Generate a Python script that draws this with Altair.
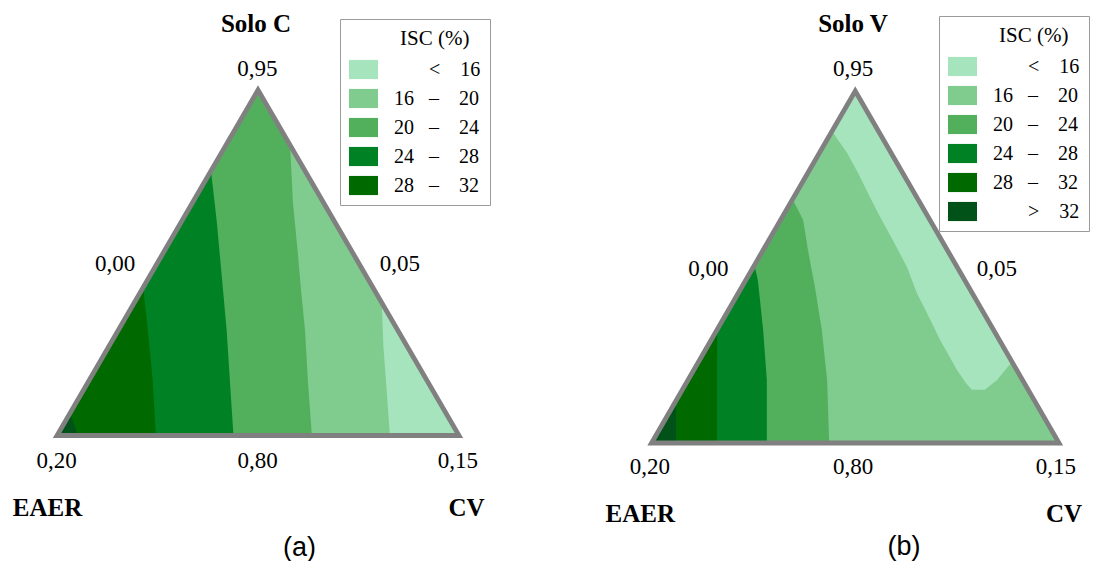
import altair as alt
import pandas as pd

SERIF = "Liberation Serif, Times New Roman, Times, DejaVu Serif, serif"
SANS = "Liberation Sans, Arial, DejaVu Sans, sans-serif"

# ISC (%) classes and their fills
BANDS = ["< 16", "16 – 20", "20 – 24", "24 – 28", "28 – 32", "> 32"]
BAND_COLORS = ["#a5e4bc", "#80cc8f", "#52b05d", "#008224", "#006900", "#005218"]

# Triangle in plot units: u along the base (EAER -> CV), v up to the Solo vertex
TRI_U = [0.0, 1.0, 0.5]
TRI_V = [0.0, 0.0, 1.0]

# ---- Panel (a): Solo C, contour boundaries (u, v), from top to the base ----
A_16_U = [0.808, 0.812, 0.820, 0.828]                       # 16-20 | <16
A_16_V = [0.381, 0.257, 0.132, 0.000]
A_20_U = [0.580, 0.587, 0.600, 0.607, 0.617, 0.624, 0.634]  # 20-24 | 16-20
A_20_V = [0.838, 0.674, 0.517, 0.421, 0.305, 0.161, 0.000]
A_24_U = [0.383, 0.397, 0.410, 0.422, 0.430, 0.439]         # 24-28 | 20-24
A_24_V = [0.768, 0.624, 0.460, 0.305, 0.161, 0.000]
A_28_U = [0.214, 0.226, 0.238, 0.246]                       # 28-32 | 24-28
A_28_V = [0.430, 0.305, 0.161, 0.000]
A_32_U = [0.032, 0.052]                                     # corner > 32
A_32_V = [0.065, 0.000]

# ---- Panel (b): Solo V ----
B_16_U = [0.443, 0.480, 0.507, 0.536, 0.561, 0.592, 0.627, 0.651, 0.676, 0.708,
          0.750, 0.772, 0.786, 0.818, 0.848, 0.884]         # <16 pocket
B_16_V = [0.886, 0.824, 0.767, 0.699, 0.642, 0.577, 0.500, 0.426, 0.369, 0.293,
          0.207, 0.170, 0.151, 0.151, 0.179, 0.230]
B_20_U = [0.347, 0.372, 0.384, 0.401, 0.418, 0.431, 0.436]  # 20-24 | 16-20
B_20_V = [0.690, 0.634, 0.548, 0.443, 0.321, 0.179, 0.000]
B_24_U = [0.2525, 0.261, 0.274, 0.283, 0.283]               # 24-28 | 20-24
B_24_V = [0.506, 0.463, 0.321, 0.179, 0.000]
B_28_U = [0.161, 0.161]                                     # 28-32 | 24-28
B_28_V = [0.321, 0.000]
B_32_U = [0.060, 0.060]                                     # > 32 | 28-32
B_32_V = [0.119, 0.000]

# ---- Text ----
TICKS = ["0,95", "0,00", "0,05", "0,20", "0,80", "0,15"]
A_HEAD = ["Solo C", "EAER", "CV"]
B_HEAD = ["Solo V", "EAER", "CV"]
A_HEAD_U = [0.495, -0.0236, 1.0187]
A_HEAD_V = [1.192, -0.2098, -0.2098]
A_TICK_U = [0.4983, 0.1443, 0.8532, -0.0012, 0.4988, 0.9975]
A_TICK_V = [1.0613, 0.4964, 0.4964, -0.0738, -0.0738, -0.0738]
A_CAP = ["(a)"]
A_CAP_U = [0.6032]
A_CAP_V = [-0.325]
B_HEAD_U = [0.4945, -0.0275, 1.0123]
B_HEAD_V = [1.189, -0.2003, -0.2003]
B_TICK_U = [0.4945, 0.1394, 0.8474, -0.0037, 0.4945, 0.9926]
B_TICK_V = [1.0625, 0.4955, 0.4955, -0.0696, -0.0696, -0.0696]
B_CAP = ["(b)"]
B_CAP_U = [0.6196]
B_CAP_V = [-0.296]

BL = (0.0, 0.0)
APEX = (0.5, 1.0)
NB = "\u00a0"
ZW = "\u200b"


def poly(us, vs, corners=()):
    u = list(us) + [c[0] for c in corners]
    v = list(vs) + [c[1] for c in corners]
    return pd.DataFrame({"u": u, "v": v, "i": list(range(len(u)))})


def make_panel(fills, corner, texts, n_bands, width, height, bl_px, scale_px,
               legend_xy):
    sx, sy = scale_px
    bx, by = bl_px
    xdom = [-bx / sx, (width - bx) / sx]
    ydom = [-(height - by) / sy, by / sy]
    X = alt.X("u:Q", scale=alt.Scale(domain=xdom, nice=False, zero=False), axis=None)
    Y = alt.Y("v:Q", scale=alt.Scale(domain=ydom, nice=False, zero=False), axis=None)

    label_expr = (
        "(substring(datum.label, 0, 1) == '<' || substring(datum.label, 0, 1) == '>') ? '"
        + ZW + NB * 7 + "' + substring(datum.label, 0, 1) + '" + NB * 4
        + "' + slice(datum.label, 2) : replace(datum.label, ' – ', '"
        + NB * 3 + "–" + NB * 4 + "')"
    )
    legend = alt.Legend(
        title="ISC (%)" + NB * 2 + ZW, orient="none",
        legendX=legend_xy[0], legendY=legend_xy[1], direction="vertical",
        symbolType="M-1,-0.66H1V0.66H-1Z", symbolSize=841, symbolStrokeWidth=0,
        symbolOpacity=1, labelFont=SERIF, labelFontSize=20, labelColor="black",
        labelOffset=16, labelLimit=300, titleFont=SERIF, titleFontSize=21,
        titleFontWeight="normal", titleColor="black", titleAnchor="end",
        titlePadding=6, padding=9, strokeColor="#9a9a9a", fillColor="white",
        rowPadding=4, labelExpr=label_expr,
    )
    cscale = alt.Scale(domain=BANDS[:n_bands], range=BAND_COLORS[:n_bands])

    layers = []
    for df, band in fills:
        d = df.copy()
        d["band"] = band
        layers.append(
            alt.Chart(d).mark_line(filled=True, interpolate="linear-closed", strokeWidth=0)
            .encode(x=X, y=Y, order="i:Q",
                    color=alt.Color("band:N", scale=cscale, legend=legend))
        )
    if corner is not None:
        layers.append(
            alt.Chart(corner).mark_line(filled=True, interpolate="linear-closed", strokeWidth=0)
            .encode(x=X, y=Y, order="i:Q", color=alt.value(BAND_COLORS[5]))
        )
    tri = poly(TRI_U, TRI_V)
    layers.append(
        alt.Chart(tri).mark_line(interpolate="linear-closed", color="#808080",
                                 strokeWidth=4.8, strokeJoin="miter", strokeMiterLimit=10)
        .encode(x=X, y=Y, order="i:Q")
    )
    (hu, hv, ht), (tu, tv, tt), (cu, cv, ct) = texts
    layers.append(
        alt.Chart(pd.DataFrame({"u": hu, "v": hv, "t": ht}))
        .mark_text(font=SERIF, fontSize=25, fontWeight="bold", color="black",
                   align="center", baseline="middle")
        .encode(x=X, y=Y, text="t:N")
    )
    layers.append(
        alt.Chart(pd.DataFrame({"u": tu, "v": tv, "t": tt}))
        .mark_text(font=SERIF, fontSize=23, color="black", align="center", baseline="middle")
        .encode(x=X, y=Y, text="t:N")
    )
    layers.append(
        alt.Chart(pd.DataFrame({"u": cu, "v": cv, "t": ct}))
        .mark_text(font=SANS, fontSize=27, color="black", align="center", baseline="middle")
        .encode(x=X, y=Y, text="t:N")
    )
    return alt.layer(*layers).properties(width=width, height=height)


tri_df = poly(TRI_U, TRI_V)

panel_a = make_panel(
    fills=[
        (tri_df, "< 16"),
        (poly(A_16_U, A_16_V, [BL, APEX]), "16 – 20"),
        (poly(A_20_U, A_20_V, [BL, APEX]), "20 – 24"),
        (poly(A_24_U, A_24_V, [BL]), "24 – 28"),
        (poly(A_28_U, A_28_V, [BL]), "28 – 32"),
    ],
    corner=poly(A_32_U, A_32_V, [BL]),
    texts=((A_HEAD_U, A_HEAD_V, A_HEAD), (A_TICK_U, A_TICK_V, TICKS), (A_CAP_U, A_CAP_V, A_CAP)),
    n_bands=5, width=545, height=550, bl_px=(49, 427.5), scale_px=(402, 345.5),
    legend_xy=(332, 11),
)

panel_b = make_panel(
    fills=[
        (tri_df, "16 – 20"),
        (poly(B_16_U, B_16_V, [APEX]), "< 16"),
        (poly(B_20_U, B_20_V, [BL]), "20 – 24"),
        (poly(B_24_U, B_24_V, [BL]), "24 – 28"),
        (poly(B_28_U, B_28_V, [BL]), "28 – 32"),
        (poly(B_32_U, B_32_V, [BL]), "> 32"),
    ],
    corner=None,
    texts=((B_HEAD_U, B_HEAD_V, B_HEAD), (B_TICK_U, B_TICK_V, TICKS), (B_CAP_U, B_CAP_V, B_CAP)),
    n_bands=6, width=536, height=550, bl_px=(98.5, 435), scale_px=(407.5, 352),
    legend_xy=(386, 8),
)

chart = (
    alt.hconcat(panel_a, panel_b, spacing=0, bounds="flush")
    .resolve_scale(color="independent", x="independent", y="independent")
    .resolve_legend(color="independent")
    .properties(padding=0)
    .configure_view(stroke=None)
)

chart.save("out.html", embed_options={"renderer": "svg", "actions": False})
